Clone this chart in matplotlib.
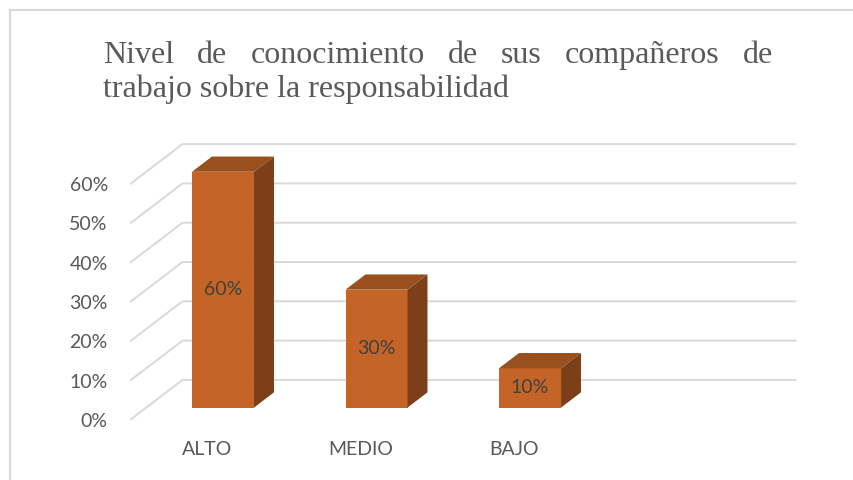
import matplotlib
matplotlib.use('Agg')
import matplotlib.pyplot as plt
from matplotlib.patches import Polygon
from matplotlib.lines import Line2D

# data
categories = ['ALTO', 'MEDIO', 'BAJO']
values = [60, 30, 10]
data_labels = ['60%', '30%', '10%']
ticks = [0, 10, 20, 30, 40, 50, 60]
tick_labels = ['0%', '10%', '20%', '30%', '40%', '50%', '60%']
title_line1 = 'Nivel de conocimiento de sus compañeros de'
title_line2 = 'trabajo sobre la responsabilidad'

W, H = 854, 480
front_c = '#c46527'
top_c = '#97501e'
side_c = '#7c3f18'
grid_c = '#d9d9d9'
text_c = '#595959'

plt.rcParams['font.family'] = ['Lato', 'DejaVu Sans']

fig = plt.figure(figsize=(W / 100, H / 100), dpi=100)

# plot area: floor front edge from px 130 to 744, 0% at px 420 from top
ax = fig.add_axes([130 / W, 60 / H, 4.5 * 153.5 / W, 80 * 3.93 / H])
ax.set_xlim(0, 4.5)
ax.set_ylim(0, 80)
for s in ax.spines.values():
    s.set_visible(False)

# depth of the 3d box in data units
DX, DY = 0.342, 10.2
n_slots = 4

# gridlines: diagonal on the side wall, horizontal on the back wall
for t in ticks:
    ax.plot([0, DX, n_slots + DX], [t, t + DY, t + DY], color=grid_c, lw=1.4,
            zorder=1, solid_capstyle='butt')

# bars with a fake 3d top and side
z0, z1 = 0.31, 0.69
bw = 0.404
d = z1 - z0
for i, v in enumerate(values):
    x0 = i + 0.5 - bw / 2 + z0 * DX
    y0 = z0 * DY
    ax.bar(x0, v, width=bw, bottom=y0, align='edge', color=front_c, zorder=3)
    top = [(x0, y0 + v), (x0 + bw, y0 + v),
           (x0 + bw + d * DX, y0 + v + d * DY), (x0 + d * DX, y0 + v + d * DY)]
    side = [(x0 + bw, y0), (x0 + bw + d * DX, y0 + d * DY),
            (x0 + bw + d * DX, y0 + v + d * DY), (x0 + bw, y0 + v)]
    ax.add_patch(Polygon(top, closed=True, facecolor=top_c, edgecolor='none', zorder=3))
    ax.add_patch(Polygon(side, closed=True, facecolor=side_c, edgecolor='none', zorder=3))
    ax.text(x0 + bw / 2, y0 + v / 2, data_labels[i], ha='center', va='center',
            fontsize=14, color='#404040', zorder=4)

ax.set_yticks(ticks, tick_labels)
ax.set_xticks([i + 0.5 for i in range(len(categories))], categories)
ax.tick_params(axis='y', length=0, pad=16, labelsize=14, labelcolor=text_c)
ax.tick_params(axis='x', length=0, pad=15, labelsize=14, labelcolor=text_c)

# title, first line justified between px 103 and 773
tfont = dict(family='Liberation Serif', size=23, color=text_c)
renderer = fig.canvas.get_renderer()
words = title_line1.split()
arts = [fig.text(0, 0, w, **tfont) for w in words]
widths = [a.get_window_extent(renderer).width for a in arts]
gap = (773 - 103 - sum(widths)) / (len(words) - 1)
x = 103
for a, w in zip(arts, widths):
    a.set_position((x / W, 1 - 63 / H))
    x += w + gap
fig.text(103 / W, 1 - 97 / H, title_line2, **tfont)

# chart border
fig.add_artist(Line2D([10 / W, 10 / W], [0, 1 - 10 / H], color=grid_c, lw=1.5))
fig.add_artist(Line2D([10 / W, 1], [1 - 10 / H, 1 - 10 / H], color=grid_c, lw=1.5))

fig.savefig('out.png', dpi=100)
